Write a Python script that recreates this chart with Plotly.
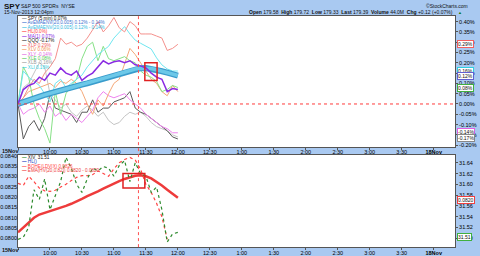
import plotly.graph_objects as go

W, H = 480, 256
FONT = "Liberation Sans"

# ---- time axis (minutes after 9:30) ----
t = [5 * k for k in range(31)]
tick_vals = [0, 30, 60, 90, 120, 150, 180, 210, 240, 270, 300, 330, 360, 390]
tick_text = ["", "10:00", "10:30", "11:00", "11:30", "12:00", "12:30", "1:00", "1:30",
             "2:00", "2:30", "3:00", "3:30", "<b>18Nov</b>"]

# ---- top panel: % change ----
xlp = [0, 0.03, 0.08, 0.12, 0.10, 0.15, 0.18, 0.22, 0.32, 0.29, 0.30, 0.28, 0.29, 0.32, 0.36, 0.40,
       0.35, 0.38, 0.42, 0.37, 0.35, 0.40, 0.38, 0.34, 0.34, 0.34, 0.33, 0.32, 0.26, 0.27, 0.29]
xli = [0, 0.16, 0.13, 0.11, 0.09, 0.05, 0.01, 0.10, 0.12, 0.08, 0.10, 0.12, 0.14, 0.18, 0.21, 0.24,
       0.26, 0.28, 0.32, 0.35, 0.376, 0.34, 0.31, 0.295, 0.28, 0.267, 0.224, 0.19, 0.17, 0.16, 0.16]
xle = [0, 0.18, 0.13, 0.0, -0.07, -0.12, -0.19, 0.06, -0.05, 0.05, 0.09, 0.12, 0.22, 0.28, 0.30, 0.21,
       0.28, 0.22, 0.21, 0.22, 0.23, 0.21, 0.20, 0.16, 0.14, 0.13, 0.11, 0.06, 0.07, 0.09, 0.08]
xlv = [0, 0.03, 0.06, 0.07, 0.08, 0.09, 0.10, 0.08, 0.11, 0.10, 0.12, 0.10, 0.06, 0.0, -0.05, 0.02,
       -0.01, 0.05, 0.10, 0.12, 0.20, 0.27, 0.24, 0.20, 0.16, 0.12, 0.10, 0.06, 0.04, 0.09, 0.06]
xly = [0, -0.05, -0.03, -0.02, 0.0, -0.04, -0.01, -0.06, -0.04, -0.08, -0.05, -0.07, -0.09, -0.06, -0.03, 0.03,
       0.06, 0.04, 0.03, 0.04, 0.05, 0.02, 0.0, -0.02, -0.05, -0.07, -0.09, -0.11, -0.12, -0.14, -0.14]
qqq = [0, -0.17, -0.11, -0.08, -0.13, -0.07, 0.05, -0.02, -0.03, -0.04, -0.05, -0.09, -0.04, -0.04, 0.02, -0.04,
       -0.02, -0.02, 0.01, 0.02, 0.03, 0.06, -0.02, -0.04, -0.05, -0.07, -0.09, -0.11, -0.13, -0.16, -0.17]
xlb = [0, 0.08, 0.10, 0.15, 0.20, 0.18, 0.05, 0.02, -0.02, 0.0, -0.04, -0.06, -0.03, -0.01, -0.03, -0.06,
       -0.04, -0.08, -0.10, -0.09, -0.06, -0.04, -0.05, -0.04, -0.06, -0.09, -0.11, -0.12, -0.13, -0.15, -0.16]
ma1 = [0, 0.07, 0.09, 0.10, 0.13, 0.115, 0.15, 0.14, 0.175, 0.15, 0.14, 0.16, 0.115, 0.135, 0.15, 0.18,
       0.21, 0.195, 0.205, 0.21, 0.20, 0.21, 0.19, 0.185, 0.175, 0.15, 0.13, 0.12, 0.06, 0.075, 0.07]
env = [0.0, 0.01, 0.02, 0.028, 0.036, 0.044, 0.052, 0.06, 0.067, 0.074, 0.08, 0.087, 0.094, 0.10, 0.107, 0.115,
       0.123, 0.131, 0.139, 0.147, 0.155, 0.163, 0.17, 0.174, 0.175, 0.172, 0.166, 0.159, 0.152, 0.145, 0.138]

top_ticks = [-0.20, -0.15, -0.10, -0.05, 0.0, 0.05, 0.10, 0.15, 0.20, 0.25, 0.30, 0.35, 0.40]
top_tick_text = ["-0.20%", "-0.15%", "-0.10%", "-0.05%", "0.00%", "0.05%", "0.10%", "0.15%",
                 "0.20%", "0.25%", "0.30%", "0.35%", "0.40%"]

# ---- bottom panel ----
xiv = [31.498, 31.502, 31.52, 31.59, 31.572, 31.61, 31.553, 31.58, 31.605, 31.65, 31.63, 31.60, 31.585,
       31.61, 31.63, 31.625, 31.633, 31.63, 31.615, 31.635, 31.644, 31.605, 31.64, 31.62, 31.615, 31.585,
       31.595, 31.553, 31.493, 31.508, 31.511]
bands = [31.602, 31.598, 31.615, 31.605, 31.593, 31.588, 31.587, 31.589, 31.595, 31.60, 31.607, 31.613,
         31.616, 31.616, 31.618, 31.625, 31.62, 31.615, 31.629, 31.64, 31.646, 31.65, 31.645, 31.628,
         31.60, 31.585, 31.565, 31.54, 31.498, None, None]
ema_hv = [31.511, 31.52, 31.53, 31.538, 31.544, 31.547, 31.55, 31.553, 31.556, 31.56, 31.564, 31.568,
          31.573, 31.578, 31.582, 31.587, 31.592, 31.597, 31.602, 31.606, 31.61, 31.613, 31.616, 31.617,
          31.615, 31.611, 31.605, 31.598, 31.59, 31.582, 31.575]
bot_ticks = [31.50, 31.52, 31.54, 31.56, 31.58, 31.60, 31.62, 31.64]
left_ticks = [0.0800, 0.0805, 0.0810, 0.0815, 0.0820, 0.0825, 0.0830, 0.0835, 0.0840]

def px(x):
    return x / W

def py(y):
    return 1 - y / H

XD = [px(18), px(455)]
Y1 = [py(148), py(14)]
Y2 = [py(250), py(156)]

fig = go.Figure()

def add_top(y, color, width=1.0, dash=None):
    fig.add_trace(go.Scatter(x=t, y=y, mode="lines", xaxis="x", yaxis="y",
                             line=dict(color=color, width=width, dash=dash), hoverinfo="skip"))

add_top(xlb, "#c4c4c4")
add_top(qqq, "#5a5a5a")
add_top(xly, "#ee82ee")
add_top(xlv, "#f4a878")
add_top(xle, "#86e086")
add_top(xli, "#6fe6f0")
add_top(xlp, "#f4908c")
add_top(env, "#3a9ccc", width=6)
add_top(env, "#6cc8e8", width=3.5)
add_top(ma1, "#8a2be2", width=1.5)

def add_bot(y, color, width=1.0, dash=None):
    fig.add_trace(go.Scatter(x=t, y=y, mode="lines", xaxis="x2", yaxis="y2",
                             line=dict(color=color, width=width, dash=dash), hoverinfo="skip"))

add_bot(ema_hv, "#ee3b3b", width=2.5)
add_bot(bands, "#ff4444", width=1.2, dash="dot")
add_bot(xiv, "#2e8b2e", width=1.2, dash="dot")

axis_common = dict(showgrid=False, zeroline=False, showline=True, linecolor="#555555", linewidth=1,
                   mirror=True, ticks="outside", ticklen=2, tickcolor="#555555",
                   tickfont=dict(family=FONT, size=5.5, color="#000000"))

fig.update_layout(
    width=W, height=H, margin=dict(l=0, r=0, t=0, b=0),
    paper_bgcolor="#a9c9f1", plot_bgcolor="#ffffff", showlegend=False,
    xaxis=dict(domain=XD, range=[0, 410], anchor="y", tickvals=tick_vals, ticktext=tick_text,
               ticklabelstandoff=-3, **axis_common),
    yaxis=dict(domain=Y1, range=[-0.2095, 0.4286], anchor="x", side="right",
               tickvals=top_ticks, ticktext=top_tick_text, **axis_common),
    xaxis2=dict(domain=XD, range=[0, 410], anchor="y2", tickvals=tick_vals, ticktext=tick_text,
                ticklabelstandoff=-2, **axis_common),
    yaxis2=dict(domain=Y2, range=[31.4836, 31.6545], anchor="x2", side="right",
                tickvals=bot_ticks, tickformat=".2f", **axis_common),
    yaxis3=dict(domain=Y2, range=[0.07957, 0.08405], overlaying="y2", anchor="x2", side="left",
                tickvals=left_ticks, tickformat=".4f", showgrid=False, zeroline=False,
                showline=False, ticks="", tickfont=dict(family=FONT, size=5.5, color="#000000")),
)
fig.add_trace(go.Scatter(x=[None], y=[None], xaxis="x2", yaxis="y3", hoverinfo="skip"))

shapes = []
shapes.append(dict(type="line", xref="paper", yref="y", x0=XD[0], x1=XD[1], y0=0, y1=0,
                   line=dict(color="#ff3b3b", width=1, dash="dot")))
CROSS_T = 113
shapes.append(dict(type="line", xref="x", yref="paper", x0=CROSS_T, x1=CROSS_T, y0=Y2[0], y1=Y1[1],
                   line=dict(color="#ff5050", width=1, dash="dot")))
shapes.append(dict(type="rect", xref="x", yref="y", x0=119, x1=130.5, y0=0.114, y1=0.20,
                   line=dict(color="#e02020", width=1.5)))
shapes.append(dict(type="rect", xref="x2", yref="y2", x0=98.5, x1=119, y0=31.593, y1=31.62,
                   line=dict(color="#e02020", width=1.5)))
fig.update_layout(shapes=shapes)

ann = []
def text(x, y, s, size=5, color="#111111", xanchor="left", bold=False, **kw):
    if bold:
        s = "<b>" + s + "</b>"
    ann.append(dict(x=px(x), y=py(y), xref="paper", yref="paper", text=s, showarrow=False,
                    xanchor=xanchor, yanchor="middle", font=dict(family=FONT, size=size, color=color), **kw))

text(2, 4.5, "SPY", size=8, bold=True)
text(19, 4.5, "S&P 500 SPDRs  NYSE", size=5)
text(2, 10.5, "15-Nov-2013 12:04pm", size=5)
text(470, 4, "©StockCharts.com", size=5, xanchor="right")
text(455, 10.5, "<b>Open</b> 179.58  <b>High</b> 179.72  <b>Low</b> 179.33  <b>Last</b> 179.39  "
     "<b>Volume</b> 44.0M  <b>Chg</b> +0.12 (+0.07%)", size=5, xanchor="right")
text(456, 10.5, "▲", size=4, color="#117711")
text(0, 151.5, "15Nov", size=5.5, bold=True)
text(0, 252.8, "15Nov", size=5.5, bold=True)

top_leg = [("SPY (5 min) 0.07%", "#777777", "#111111"),
           ("AvEMAENV(20,0.005) 0.12% - 0.14%", "#3a6fd0", "#3a6fd0"),
           ("AvEMAENV(20,0.005) 0.12% - 0.14%", "#30c0e0", "#30b8e0"),
           ("HL(0.0%)", "#ff3b3b", "#ff3b3b"),
           ("MA(1) 0.07%", "#8a2be2", "#8a2be2"),
           ("QQQ -0.17%", "#333333", "#111111"),
           ("XLP 0.29%", "#f06060", "#f06060"),
           ("XLV 0.06%", "#f49050", "#f49050"),
           ("XLY -0.14%", "#e060e0", "#e060e0"),
           ("XLE 0.08%", "#50c850", "#50c850"),
           ("XLB -0.16%", "#999999", "#999999"),
           ("XLI 0.16%", "#30d0e0", "#30d0e0")]
for i, (s, sw, tc) in enumerate(top_leg):
    text(20, 16.7 + 4.55 * i, "<span style='color:%s'><b>—</b></span> %s" % (sw, s), size=4.6, color=tc)

bot_leg = [("XIV  31.51", "#2e8b2e", "#111111"),
           ("HL()", "#2040c0", "#2040c0"),
           ("BOHE(LDVIX) 0.0826", "#ff4444", "#ff4444"),
           ("EMA(HV(20,0.82)) 0.0820 - 0.0820", "#ee3b3b", "#ee3b3b")]
for i, (s, sw, tc) in enumerate(bot_leg):
    text(20, 158.5 + 4.4 * i, "<span style='color:%s'><b>—</b></span> %s" % (sw, s), size=4.6, color=tc)

def box(y, s, border):
    text(457, y, s, size=5, bordercolor=border, borderwidth=1, borderpad=0, bgcolor="#ffffff")

box(43, "0.29%", "#f06060")
box(70, "0.16%", "#30d0e0")
box(75, "0.12%", "#6060d0")
box(88, "0.08%", "#40b040")
box(133, "-0.14%", "#e060e0")
box(139, "-0.17%", "#888888")
box(202, "0.0820", "#f04040")
box(240, "31.51", "#40b040")

fig.update_layout(annotations=ann)
fig.write_html("out.html")
